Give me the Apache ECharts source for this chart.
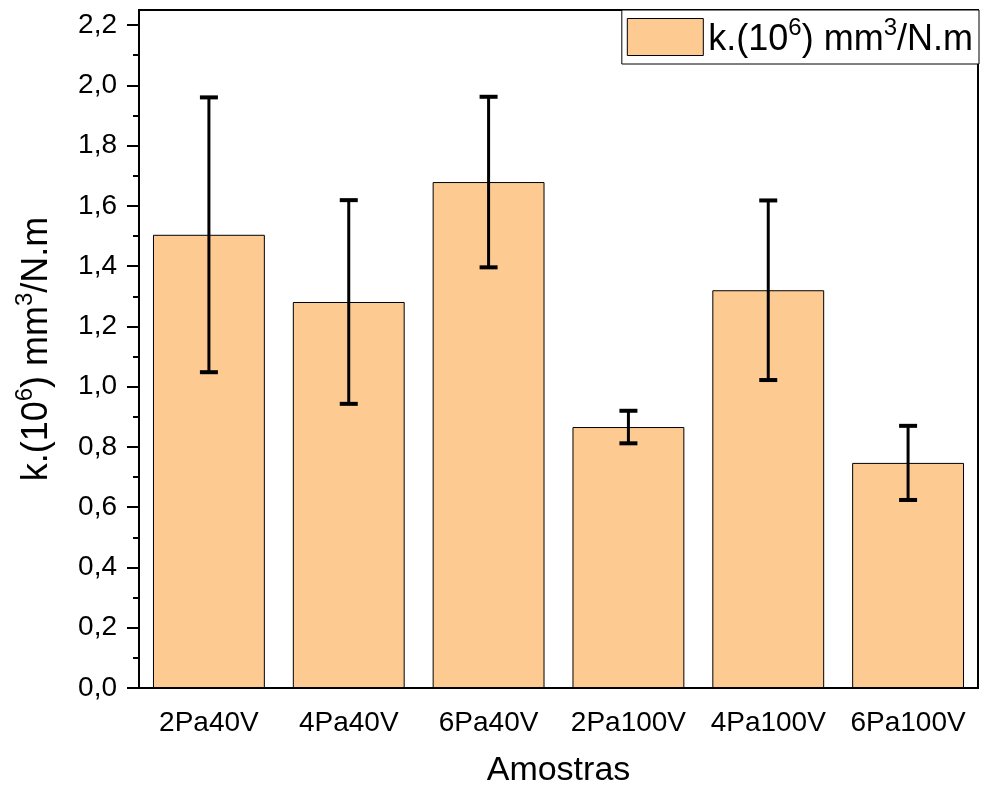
<!DOCTYPE html>
<html>
<head>
<meta charset="utf-8">
<script src="https://cdn.jsdelivr.net/npm/echarts@6/dist/echarts.min.js"></script>
<style>
  html, body { margin: 0; padding: 0; background: #fff; }
  #chart { width: 983px; height: 790px; }
</style>
</head>
<body>
<div id="chart"></div>
<script>
// Wear coefficient per sample, mean and standard deviation
const categories = ['2Pa40V', '4Pa40V', '6Pa40V', '2Pa100V', '4Pa100V', '6Pa100V'];
const meanK = [1.504, 1.281, 1.679, 0.866, 1.320, 0.747];
const errK = [0.456, 0.338, 0.283, 0.054, 0.298, 0.123];

// Y axis tick positions (labelled majors and unlabelled minors)
const yMajorTicks = [0.0, 0.2, 0.4, 0.6, 0.8, 1.0, 1.2, 1.4, 1.6, 1.8, 2.0, 2.2];
const yMinorTicks = [0.1, 0.3, 0.5, 0.7, 0.9, 1.1, 1.3, 1.5, 1.7, 1.9, 2.1];

const seriesName = 'k.(10^6) mm^3/N.m';
const richUnit = '{t|k.(10}{s|6}{t|) mm}{s|3}{t|/N.m}';

const FONT = "'Liberation Sans', Arial, sans-serif";
const BAR_COLOR = '#FDCA92';

const unitRich = {
  t: { fontSize: 36, fontFamily: FONT, color: '#000', lineHeight: 42, verticalAlign: 'bottom' },
  s: { fontSize: 24, fontFamily: FONT, color: '#000', lineHeight: 42, verticalAlign: 'top' }
};

const chart = echarts.init(document.getElementById('chart'), null, { renderer: 'canvas' });

const errorData = categories.map((c, i) => [i, meanK[i] - errK[i], meanK[i] + errK[i]]);

const option = {
  backgroundColor: '#fff',
  animation: false,
  textStyle: { fontFamily: FONT, color: '#000' },
  grid: {
    left: 139, right: 5, top: 10, bottom: 102,
    show: true, borderColor: '#000', borderWidth: 2,
    containLabel: false,
    outerBoundsMode: 'none'
  },
  legend: {
    data: [seriesName],
    right: 4, top: 10,
    padding: [6, 6, 6, 5],
    itemWidth: 76, itemHeight: 37,
    itemGap: 10,
    backgroundColor: '#fff',
    borderColor: '#000', borderWidth: 1,
    icon: 'rect',
    itemStyle: { color: BAR_COLOR, borderColor: '#000', borderWidth: 1 },
    formatter: () => richUnit,
    textStyle: { fontFamily: FONT, color: '#000', rich: unitRich }
  },
  xAxis: {
    type: 'category',
    data: categories,
    name: 'Amostras',
    nameLocation: 'middle',
    nameGap: 66,
    nameTextStyle: { fontSize: 34, fontFamily: FONT, color: '#000' },
    axisLine: { lineStyle: { color: '#000', width: 2 } },
    axisTick: { alignWithLabel: true, interval: 0, length: 12, lineStyle: { color: '#000', width: 2 } },
    axisLabel: { interval: 0, fontSize: 28, fontFamily: FONT, color: '#000', margin: 21 },
    splitLine: { show: false }
  },
  yAxis: [
    {
      type: 'value',
      min: 0, max: 2.25,
      name: richUnit,
      nameLocation: 'middle',
      nameGap: 84,
      nameRotate: 90,
      nameTextStyle: { fontFamily: FONT, color: '#000', rich: unitRich },
      axisLine: { show: true, lineStyle: { color: '#000', width: 2 } },
      axisTick: { show: true, length: 12, customValues: yMajorTicks, lineStyle: { color: '#000', width: 2 } },
      axisLabel: {
        fontSize: 28, fontFamily: FONT, color: '#000', margin: 22,
        customValues: yMajorTicks,
        formatter: v => v.toFixed(1).replace('.', ',')
      },
      splitLine: { show: false }
    },
    {
      type: 'value',
      min: 0, max: 2.25,
      position: 'left',
      axisLine: { show: false },
      axisTick: { show: true, length: 6, customValues: yMinorTicks, lineStyle: { color: '#000', width: 2 } },
      axisLabel: { show: false },
      splitLine: { show: false }
    }
  ],
  series: [
    {
      name: seriesName,
      type: 'bar',
      data: meanK,
      barWidth: '80%',
      itemStyle: { color: BAR_COLOR, borderColor: '#000', borderWidth: 1 },
      z: 2
    },
    {
      type: 'custom',
      name: 'error',
      data: errorData,
      encode: { x: 0, y: [1, 2] },
      z: 10,
      renderItem: (params, api) => {
        const lo = api.coord([api.value(0), api.value(1)]);
        const hi = api.coord([api.value(0), api.value(2)]);
        const half = 9;
        const stroke = { stroke: '#000', lineWidth: 3 };
        const cap = { stroke: '#000', lineWidth: 4 };
        return {
          type: 'group',
          children: [
            { type: 'line', shape: { x1: hi[0], y1: hi[1], x2: lo[0], y2: lo[1] }, style: stroke },
            { type: 'line', shape: { x1: hi[0] - half, y1: hi[1], x2: hi[0] + half, y2: hi[1] }, style: cap },
            { type: 'line', shape: { x1: lo[0] - half, y1: lo[1], x2: lo[0] + half, y2: lo[1] }, style: cap }
          ]
        };
      }
    }
  ]
};

chart.setOption(option);
</script>
</body>
</html>
